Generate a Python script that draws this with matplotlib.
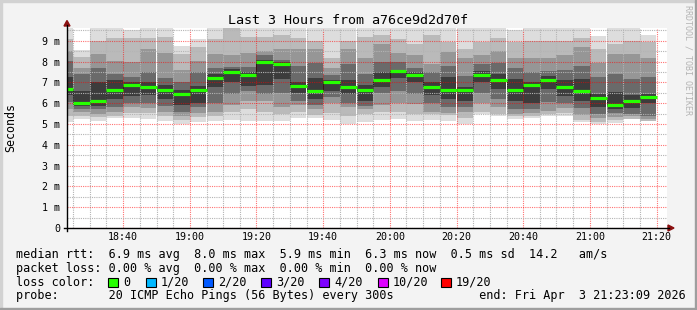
import matplotlib
matplotlib.use("Agg")
import matplotlib.pyplot as plt
import matplotlib.dates as mdates
import pandas as pd
from matplotlib.patches import Rectangle, Polygon
from matplotlib.lines import Line2D
from matplotlib.ticker import MultipleLocator, FuncFormatter

plt.rcParams["font.family"] = ["DejaVu Sans Mono"]

# 5 minute samples (300s step), start time of every bar
bar_starts = pd.date_range("2026-04-03 18:20", periods=36, freq="5min")

# median rtt per bar, in ms
median_ms = [6.70, 6.01, 6.13, 6.63, 6.88, 6.76, 6.62, 6.44, 6.63, 7.20,
             7.52, 7.37, 8.00, 7.87, 6.83, 6.60, 7.00, 6.76, 6.63, 7.13,
             7.54, 7.37, 6.78, 6.62, 6.62, 7.38, 7.12, 6.62, 6.88, 7.10,
             6.78, 6.60, 6.24, 5.92, 6.11, 6.31]

# smoke bands, outermost to innermost (upper edges), ms
smoke_hi = [
    [9.8, 9.09, 8.53, 8.05, 7.25], [8.56, 8.21, 7.72, 7.40, 6.60],
    [9.8, 9.00, 8.37, 7.70, 7.00], [9.8, 9.15, 8.05, 7.40, 7.10],
    [9.5, 9.15, 7.97, 7.25, 7.00], [9.8, 9.15, 8.60, 7.50, 7.00],
    [9.8, 9.20, 8.40, 7.20, 6.90], [8.75, 8.37, 7.60, 7.00, 6.65],
    [9.10, 8.70, 8.05, 7.50, 6.85], [9.8, 9.10, 8.37, 7.70, 7.40],
    [9.8, 9.60, 8.30, 7.75, 7.65], [9.8, 9.20, 8.40, 7.75, 7.50],
    [9.8, 9.20, 8.50, 8.30, 8.10], [9.8, 9.30, 8.60, 8.10, 8.00],
    [9.8, 9.15, 8.60, 7.80, 7.00], [9.6, 9.00, 8.60, 7.95, 7.20],
    [9.8, 8.20, 7.70, 7.35, 7.10], [9.8, 9.00, 8.60, 7.90, 7.10],
    [9.8, 9.20, 8.20, 7.40, 6.90], [9.8, 9.30, 8.85, 8.00, 7.50],
    [9.8, 9.10, 8.40, 8.00, 7.60], [9.8, 8.85, 8.30, 7.70, 7.50],
    [9.8, 9.30, 7.90, 7.50, 7.00], [9.8, 8.95, 8.45, 7.80, 7.25],
    [9.8, 8.60, 8.20, 7.30, 6.80], [9.8, 8.95, 8.30, 7.90, 7.55],
    [9.8, 9.15, 8.50, 7.95, 7.40], [9.5, 8.95, 8.20, 7.70, 7.15],
    [9.8, 9.00, 8.20, 7.50, 7.00], [9.8, 9.00, 8.20, 7.55, 7.30],
    [9.8, 9.00, 8.30, 7.60, 7.10], [9.8, 9.15, 8.70, 7.80, 7.15],
    [9.25, 8.60, 7.95, 7.25, 6.45], [9.8, 8.85, 8.35, 7.40, 6.55],
    [9.8, 9.00, 8.37, 7.15, 6.40], [9.3, 8.95, 8.20, 7.25, 6.45],
]
# lower edges, outermost to innermost
smoke_lo = [
    [5.08, 5.40, 5.72, 6.04, 6.41], [5.25, 5.40, 5.56, 5.72, 5.85],
    [5.15, 5.35, 5.50, 5.72, 5.85], [5.30, 5.40, 5.60, 5.80, 6.20],
    [5.30, 5.55, 5.80, 6.00, 6.35], [5.25, 5.55, 5.75, 6.00, 6.40],
    [5.15, 5.40, 5.60, 5.85, 6.20], [5.00, 5.20, 5.40, 5.60, 5.90],
    [5.10, 5.35, 5.55, 5.80, 6.00], [5.15, 5.40, 5.60, 6.00, 6.80],
    [5.20, 5.60, 5.90, 6.45, 7.00], [5.15, 5.70, 6.10, 6.60, 6.85],
    [5.15, 5.60, 6.10, 6.45, 6.90], [5.15, 5.50, 5.80, 6.50, 7.15],
    [5.30, 5.60, 5.90, 6.10, 6.50], [5.30, 5.45, 5.70, 5.90, 6.20],
    [5.20, 5.55, 6.00, 6.30, 6.60], [5.00, 5.40, 5.80, 6.00, 6.45],
    [5.10, 5.50, 5.70, 5.85, 6.10], [5.20, 5.60, 5.90, 6.50, 6.80],
    [5.25, 5.60, 6.00, 6.60, 7.20], [5.15, 5.50, 5.95, 6.45, 7.00],
    [5.20, 5.50, 5.60, 6.00, 6.40], [5.15, 5.45, 5.55, 5.80, 6.20],
    [5.00, 5.30, 5.60, 5.80, 6.10], [5.50, 5.60, 6.00, 6.50, 7.00],
    [5.40, 5.50, 5.80, 6.20, 6.70], [5.25, 5.40, 5.50, 5.70, 6.10],
    [5.30, 5.40, 5.55, 5.70, 6.00], [5.40, 5.50, 5.65, 6.05, 6.70],
    [5.40, 5.55, 5.75, 6.00, 6.35], [5.10, 5.20, 5.45, 5.75, 6.10],
    [5.00, 5.10, 5.30, 5.50, 5.80], [5.05, 5.20, 5.35, 5.55, 5.70],
    [5.25, 5.25, 5.40, 5.50, 5.75], [5.15, 5.15, 5.25, 5.40, 6.00],
]
smoke_grays = ["#dddddd", "#bababa", "#969696", "#6a6a6a", "#3c3c3c"]

loss_labels = ["0", "1/20", "2/20", "3/20", "4/20", "10/20", "19/20"]
loss_colors = ["#26ff00", "#00b8ff", "#0059ff", "#5e00ff", "#7e00ff", "#dd00ff", "#ff0000"]
loss_box_x = [108, 146, 203, 261, 319, 378, 441]

W, H = 697, 310


def fx(x):
    return x / W


def fy(y):
    return 1 - y / H


fig = plt.figure(figsize=(W / 100, H / 100), dpi=100, facecolor="#f3f3f3")
ax = fig.add_axes([fx(67), fy(228), 600 / W, 200 / H])
ax.set_facecolor("white")

x0 = mdates.date2num(bar_starts.to_pydatetime())
step = 5 / 1440

# smoke, outer bands first, inner ones drawn over
for lvl, color in enumerate(smoke_grays):
    lo = [r[lvl] for r in smoke_lo]
    hi = [r[lvl] for r in smoke_hi]
    ax.bar(x0, [h - l for h, l in zip(hi, lo)], bottom=lo, width=step,
           align="edge", color=color, linewidth=0, zorder=1)

# dotted connectors between the median steps, then the median itself
ax.vlines(x0[1:], median_ms[:-1], median_ms[1:], color="black",
          linestyle=(0, (1, 1)), linewidth=0.72, zorder=3)
ax.hlines(median_ms, x0, x0 + step, color=loss_colors[0], linewidth=2.3, zorder=4)

ax.set_xlim(mdates.date2num(pd.Timestamp("2026-04-03 18:23:09")),
            mdates.date2num(pd.Timestamp("2026-04-03 21:23:09")))
ax.set_ylim(0, 9.62)

ax.xaxis.set_major_locator(mdates.MinuteLocator(byminute=[0, 20, 40]))
ax.xaxis.set_minor_locator(mdates.MinuteLocator(byminute=range(0, 60, 5)))
ax.xaxis.set_major_formatter(mdates.DateFormatter("%H:%M"))
ax.yaxis.set_major_locator(MultipleLocator(1))
ax.yaxis.set_minor_locator(MultipleLocator(0.5))
ax.yaxis.set_major_formatter(FuncFormatter(lambda v, p: "0" if v == 0 else f"{v:.0f} m"))

ax.set_axisbelow(False)
ax.grid(which="minor", color="#b4b4b4", linestyle=(0, (1, 1)), linewidth=0.8)
ax.grid(which="major", color="#ff0000", alpha=0.55, linestyle=(0, (1, 1)), linewidth=0.8)
ax.tick_params(which="both", length=0)
ax.tick_params(axis="x", labelsize=7.2, pad=3)
ax.tick_params(axis="y", labelsize=7.2, pad=5)
for s in ax.spines.values():
    s.set_visible(False)

# axes lines with the little arrow heads
fig.add_artist(Line2D([fx(67), fx(67)], [fy(231), fy(25)], color="black", linewidth=1.0))
fig.add_artist(Line2D([fx(64), fx(669)], [fy(228), fy(228)], color="black", linewidth=1.0))
fig.add_artist(Polygon([(fx(64), fy(26)), (fx(70), fy(26)), (fx(67), fy(20.5))],
                       closed=True, color="#8b1010", transform=fig.transFigure))
fig.add_artist(Polygon([(fx(668), fy(225)), (fx(668), fy(231)), (fx(674), fy(228))],
                       closed=True, color="#8b1010", transform=fig.transFigure))

fig.text(0.5, fy(24), "Last 3 Hours from a76ce9d2d70f", ha="center", va="baseline", size=9.6)
fig.text(fx(11), fy(128), "Seconds", rotation=90, ha="center", va="center", size=8.4)
fig.text(fx(688), fy(60), "RRDTOOL / TOBI OETIKER", rotation=-90, ha="center",
         va="center", size=6, color="#b4b4b4")

fig.text(fx(16), fy(258), "median rtt:  6.9 ms avg  8.0 ms max  5.9 ms min  "
         "6.3 ms now  0.5 ms sd  14.2   am/s", size=8.5, va="baseline")
fig.text(fx(16), fy(271.8), "packet loss: 0.00 % avg  0.00 % max  0.00 % min  "
         "0.00 % now", size=8.5, va="baseline")
fig.text(fx(16), fy(285.6), "loss color:", size=8.5, va="baseline")
for bx, lab, col in zip(loss_box_x, loss_labels, loss_colors):
    fig.add_artist(Rectangle((fx(bx), fy(287)), 10 / W, 9 / H, transform=fig.transFigure,
                             facecolor=col, edgecolor="black", linewidth=0.8))
    fig.text(fx(bx + 15), fy(285.6), lab, size=8.5, va="baseline")
fig.text(fx(16), fy(299.4), "probe:       20 ICMP Echo Pings (56 Bytes) every 300s"
         "            end: Fri Apr  3 21:23:09 2026", size=8.5, va="baseline")

# bevelled frame round the image
fig.add_artist(Rectangle((0, fy(2)), 1, 2 / H, transform=fig.transFigure, color="#d2d2d2"))
fig.add_artist(Rectangle((0, 0), 2 / W, 1, transform=fig.transFigure, color="#d2d2d2"))
fig.add_artist(Rectangle((fx(695), 0), 2 / W, 1, transform=fig.transFigure, color="#9e9e9e"))
fig.add_artist(Rectangle((0, 0), 1, 2 / H, transform=fig.transFigure, color="#9e9e9e"))

fig.savefig("out.png", dpi=100, facecolor=fig.get_facecolor())
